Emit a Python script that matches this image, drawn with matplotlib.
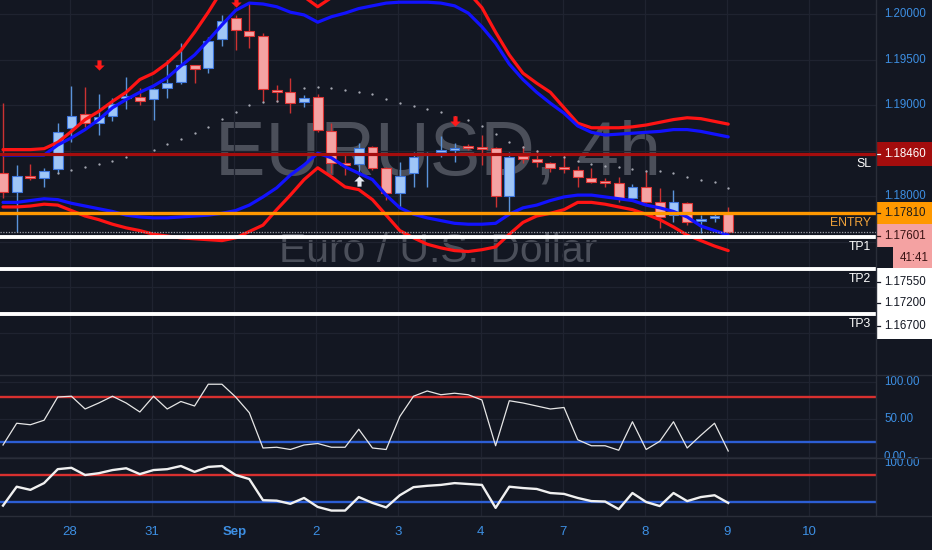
import numpy as np
import matplotlib
matplotlib.use("Agg")
import matplotlib.pyplot as plt
from matplotlib import font_manager
from matplotlib.patches import Rectangle
from matplotlib.lines import Line2D
from matplotlib.transforms import blended_transform_factory

# ---------------- EURUSD 4h candles ----------------
opens = [1.18253, 1.18044, 1.18220, 1.18198, 1.18297, 1.18747, 1.18901, 1.18802, 1.18879, 1.19077,
         1.19088, 1.19066, 1.19187, 1.19253, 1.19440, 1.19407, 1.19725, 1.19956, 1.19813, 1.19758,
         1.19165, 1.19143, 1.19033, 1.19088, 1.18714, 1.18352, 1.18352, 1.18539, 1.18308, 1.18033,
         1.18253, 1.18451, 1.18484, 1.18506, 1.18539, 1.18528, 1.18528, 1.18000, 1.18440, 1.18407,
         1.18363, 1.18308, 1.18286, 1.18198, 1.18154, 1.18143, 1.17978, 1.18099, 1.17934, 1.17791,
         1.17923, 1.17725, 1.17758, 1.17813]
highs = [1.19022, 1.18341, 1.18352, 1.18308, 1.18802, 1.19209, 1.19198, 1.19121, 1.19077, 1.19308,
         1.19187, 1.19187, 1.19495, 1.19681, 1.19445, 1.19747, 1.19989, 1.19989, 1.20121, 1.19791,
         1.19220, 1.19297, 1.19110, 1.19121, 1.18802, 1.18473, 1.18583, 1.18550, 1.18319, 1.18374,
         1.18484, 1.18484, 1.18660, 1.18583, 1.18572, 1.18670, 1.18535, 1.18484, 1.18550, 1.18506,
         1.18370, 1.18451, 1.18330, 1.18308, 1.18198, 1.18209, 1.18132, 1.18286, 1.18088, 1.18066,
         1.17930, 1.17791, 1.17824, 1.17879]
lows = [1.17978, 1.17605, 1.18176, 1.18099, 1.18253, 1.18594, 1.18758, 1.18670, 1.18824, 1.18956,
        1.19000, 1.18835, 1.19077, 1.19231, 1.19242, 1.19352, 1.19649, 1.19605, 1.19627, 1.19033,
        1.19033, 1.18912, 1.18978, 1.18703, 1.18253, 1.18231, 1.18231, 1.18286, 1.17956, 1.17879,
        1.18099, 1.18099, 1.18429, 1.18374, 1.18506, 1.18341, 1.17879, 1.17813, 1.18363, 1.18319,
        1.18264, 1.18253, 1.18099, 1.18143, 1.18099, 1.17934, 1.17967, 1.17923, 1.17649, 1.17714,
        1.17682, 1.17594, 1.17714, 1.17594]
closes = [1.18044, 1.18220, 1.18198, 1.18275, 1.18703, 1.18879, 1.18802, 1.18868, 1.19011, 1.19099,
          1.19044, 1.19176, 1.19242, 1.19440, 1.19396, 1.19703, 1.19923, 1.19824, 1.19758, 1.19176,
          1.19143, 1.19022, 1.19077, 1.18725, 1.18363, 1.18341, 1.18528, 1.18308, 1.18033, 1.18220,
          1.18429, 1.18473, 1.18495, 1.18528, 1.18528, 1.18517, 1.18000, 1.18429, 1.18407, 1.18374,
          1.18308, 1.18297, 1.18209, 1.18154, 1.18143, 1.17978, 1.18099, 1.17934, 1.17769, 1.17934,
          1.17714, 1.17747, 1.17769, 1.17601]

# ---------------- band indicators ----------------
upper_outer = [1.1851, 1.1851, 1.1851, 1.1852, 1.1859, 1.1871, 1.1884, 1.1893, 1.1904, 1.1914,
               1.1928, 1.1935, 1.1946, 1.1960, 1.1980, 1.2002, 1.2026, 1.2048, 1.2059, 1.2059,
               1.2054, 1.2037, 1.2019, 1.2008, 1.2018, 1.2037, 1.2054, 1.2059, 1.2059, 1.2059,
               1.2059, 1.2054, 1.2048, 1.2037, 1.2024, 1.2007, 1.1980, 1.1955, 1.1935, 1.1924,
               1.1914, 1.1897, 1.1880, 1.1875, 1.1875, 1.1875, 1.1876, 1.1878, 1.1881, 1.1884,
               1.1886, 1.1885, 1.1882, 1.1879]
upper_inner = [1.1845, 1.1845, 1.1845, 1.1845, 1.1856, 1.1864, 1.1873, 1.1884, 1.1897, 1.1906,
               1.1914, 1.1921, 1.1930, 1.1943, 1.1955, 1.1971, 1.1988, 1.2004, 1.2012, 1.2011,
               1.2008, 1.2002, 1.1999, 1.1991, 1.1997, 1.2001, 1.2006, 1.2009, 1.2012, 1.2013,
               1.2013, 1.2013, 1.2012, 1.2009, 1.2001, 1.1986, 1.1968, 1.1945, 1.1928, 1.1914,
               1.1902, 1.1891, 1.1877, 1.1870, 1.1867, 1.1868, 1.1869, 1.1870, 1.1871, 1.1873,
               1.1873, 1.1871, 1.1868, 1.1865]
lower_inner = [1.1793, 1.1793, 1.1795, 1.1797, 1.1796, 1.1792, 1.1789, 1.1786, 1.1783, 1.1779,
               1.1777, 1.1776, 1.1776, 1.1777, 1.1778, 1.1779, 1.1781, 1.1784, 1.1790, 1.1799,
               1.1809, 1.1823, 1.1834, 1.1847, 1.1842, 1.1832, 1.1825, 1.1818, 1.1801, 1.1787,
               1.1780, 1.1776, 1.1773, 1.1770, 1.1769, 1.1769, 1.1770, 1.1780, 1.1787, 1.1790,
               1.1795, 1.1799, 1.1801, 1.1801, 1.1799, 1.1797, 1.1795, 1.1790, 1.1787, 1.1783,
               1.1777, 1.1767, 1.1762, 1.1757]
lower_outer = [1.1788, 1.1788, 1.1789, 1.1791, 1.1790, 1.1784, 1.1778, 1.1774, 1.1769, 1.1765,
               1.1762, 1.1758, 1.1756, 1.1754, 1.1753, 1.1752, 1.1751, 1.1754, 1.1761, 1.1768,
               1.1785, 1.1801, 1.1818, 1.1831, 1.1821, 1.1810, 1.1807, 1.1796, 1.1779, 1.1762,
               1.1754, 1.1747, 1.1743, 1.1740, 1.1739, 1.1741, 1.1744, 1.1758, 1.1771, 1.1778,
               1.1781, 1.1785, 1.1793, 1.1793, 1.1791, 1.1788, 1.1785, 1.1780, 1.1774, 1.1766,
               1.1757, 1.1751, 1.1745, 1.1740]

# parabolic SAR (nan where no dot is shown)
nan = np.nan
sar = [nan, nan, nan, nan, 1.1825, 1.1829, 1.1832, 1.1835, 1.1838, 1.1843,
       1.1846, 1.1851, 1.1857, 1.1863, 1.1869, 1.1876, 1.1885, 1.1892, 1.1900, 1.1903,
       1.1904, nan, 1.1919, 1.1920, 1.1919, 1.1917, 1.1914, 1.1912, 1.1907, 1.1902,
       1.1899, 1.1896, 1.1892, 1.1887, 1.1884, 1.1877, 1.1868, 1.1859, 1.1854, 1.1850,
       1.1845, 1.1843, 1.1838, 1.1835, 1.1833, 1.1832, 1.1830, 1.1828, 1.1827, 1.1825,
       1.1821, 1.1818, 1.1815, 1.1809]

sell_bars = [7, 17, 33]
sell_prices = [1.1944, 1.2013, 1.1882]
buy_bars = [26]
buy_prices = [1.1817]

# ---------------- oscillators ----------------
osc_fast = [16, 45, 43, 49, 80, 81, 64, 72, 81, 72,
            60, 81, 64, 74, 68, 97, 97, 80, 59, 12,
            13, 10, 16, 18, 13, 13, 37, 12, 10, 54,
            81, 88, 83, 85, 83, 76, 15, 75, 72, 68,
            64, 66, 23, 15, 15, 9, 47, 10, 21, 47,
            12, 29, 45, 8]
osc_slow = [12, 54, 47, 62, 93, 96, 80, 84, 91, 95,
            82, 91, 93, 100, 87, 98, 100, 80, 71, 24,
            23, 16, 29, 9, 1, 1, 31, 18, 8, 35,
            53, 56, 58, 62, 60, 58, 7, 54, 51, 49,
            40, 38, 29, 22, 21, 4, 40, 20, 11, 40,
            22, 31, 35, 18]
osc_upper, osc_lower = 80, 20

# ---------------- trade levels ----------------
stop_loss = 1.18460
entry = 1.17810
targets = [1.17550, 1.17200, 1.16700]
target_names = ["TP1", "TP2", "TP3"]
countdown = "41:41"

day_start_bars = [5, 11, 17, 23, 29, 35, 41, 47, 53, 59]
day_labels = ["28", "31", "Sep", "2", "3", "4", "7", "8", "9", "10"]
price_ticks = [1.165, 1.170, 1.175, 1.180, 1.185, 1.190, 1.195, 1.200]

# ---------------- style ----------------
W, H = 932, 550
BG = "#131722"
GRID = "#1f2330"
SEP = "#2a2e39"
AXIS_BLUE = "#3d8fe3"
WM = "#4b4f5a"
LABEL_FS = 8.3

names = {f.name for f in font_manager.fontManager.ttflist}
NARROW = "Liberation Sans Narrow" if "Liberation Sans Narrow" in names else "Liberation Sans"
plt.rcParams["font.family"] = [NARROW, "DejaVu Sans"]

fig = plt.figure(figsize=(W / 100, H / 100), dpi=100, facecolor=BG)


def px_rect(x0, y0, x1, y1):
    return [x0 / W, 1 - y1 / H, (x1 - x0) / W, (y1 - y0) / H]


PLOT_R = 876
ax = fig.add_axes(px_rect(0, 0, PLOT_R, 375))
scale = fig.add_axes(px_rect(PLOT_R, 0, W, 375), sharey=ax)
ax1 = fig.add_axes(px_rect(0, 375, PLOT_R, 458), sharex=ax)
ax2 = fig.add_axes(px_rect(0, 458, PLOT_R, 516), sharex=ax)

for a in (ax, scale, ax1, ax2):
    a.set_facecolor(BG)
    for s in a.spines.values():
        s.set_visible(False)
    a.tick_params(left=False, bottom=False, labelleft=False, labelbottom=False,
                  length=0)
    a.set_axisbelow(True)

Y_TOP, Y_BOT = 1.20154, 1.16033
ax.set_xlim(-0.22, 63.8)
ax.set_ylim(Y_BOT, Y_TOP)
ax1.set_ylim(-1.33, 109.3)
ax2.set_ylim(-11.1, 117.8)
scale.set_xlim(0, W - PLOT_R)
PX = (Y_TOP - Y_BOT) / 375.0  # price per pixel in the main pane

tick_x = [b - 0.1 for b in day_start_bars]
ax.set_xticks(tick_x)
ax.set_yticks(price_ticks)
ax.grid(True, color=GRID, lw=0.9)
ax1.set_yticks([0, 50, 100])
ax1.grid(True, color=GRID, lw=0.9)
ax2.set_yticks([])
ax2.grid(True, axis="x", color=GRID, lw=0.9)
scale.set_xticks([])
scale.grid(False)

# watermark
wm1 = ax.text(0.5, 1 - 175 / 375, "EURUSD, 4h", transform=ax.transAxes, ha="center",
              va="baseline", fontsize=64, color=WM, zorder=0.5)
wm2 = ax.text(0.5, 1 - 262 / 375, "Euro / U.S. Dollar", transform=ax.transAxes,
              ha="center", va="baseline", fontsize=34, color=WM, zorder=0.5)
renderer = fig.canvas.get_renderer()
for t, target in ((wm1, 445), (wm2, 318)):
    w = t.get_window_extent(renderer).width
    t.set_fontsize(t.get_fontsize() * target / w)

# candles
x = np.arange(len(opens))
o, hi, lo, c = (np.array(v) for v in (opens, highs, lows, closes))
up = c >= o
UP_FILL, UP_EDGE, UP_WICK = "#9fc6f7", "#3e76dc", "#5a93da"
DN_FILL, DN_EDGE, DN_WICK = "#f5a3a3", "#de3434", "#cc3232"
ax.vlines(x[up], lo[up], hi[up], color=UP_WICK, lw=1.0, zorder=3)
ax.vlines(x[~up], lo[~up], hi[~up], color=DN_WICK, lw=1.0, zorder=3)
body_lo = np.minimum(o, c)
body_h = np.maximum(np.abs(c - o), 2 * PX)
ax.bar(x[up], body_h[up], bottom=body_lo[up], width=0.72, color=UP_FILL,
       edgecolor=UP_EDGE, lw=0.8, zorder=4)
ax.bar(x[~up], body_h[~up], bottom=body_lo[~up], width=0.72, color=DN_FILL,
       edgecolor=DN_EDGE, lw=0.8, zorder=4)

# bands
for series, col in ((upper_outer, "#ff1414"), (lower_outer, "#ff1414"),
                    (upper_inner, "#1212ff"), (lower_inner, "#1212ff")):
    ax.plot(x, series, color=col, lw=2.3, zorder=5, solid_capstyle="round")

# SAR dots
ax.scatter(x, sar, s=2.8, color="#a3a6b0", zorder=6, linewidths=0)

# signal arrows
down_arrow = [(-0.2, 0.5), (0.2, 0.5), (0.2, 0.0), (0.5, 0.0), (0.0, -0.5),
              (-0.5, 0.0), (-0.2, 0.0), (-0.2, 0.5)]
up_arrow = [(px_, -py_) for px_, py_ in down_arrow]
ax.scatter(sell_bars, sell_prices, marker=down_arrow, s=55, color="#ff1a1a",
           zorder=8, linewidths=0)
ax.scatter(buy_bars, buy_prices, marker=up_arrow, s=55, color="#e8ecf5",
           zorder=8, linewidths=0)

# trade levels
ax.axhline(stop_loss, color="#a50d0d", lw=2.3, zorder=7)
ax.axhline(entry, color="#ff9800", lw=2.4, zorder=7)
ax.axhline(closes[-1], color="#9a9da6", lw=0.9, ls=(0, (1, 1.2)), zorder=7)
for t in targets:
    ax.axhline(t, color="white", lw=2.8, zorder=7)

edge = blended_transform_factory(ax.transAxes, ax.transData)
level_text = [("SL", stop_loss, "white"), ("ENTRY", entry, "#f0a23a")]
level_text += [(n, t, "white") for n, t in zip(target_names, targets)]
for name, val, col in level_text:
    ax.annotate(name, xy=(1.0, val), xycoords=edge, xytext=(-5, -10),
                textcoords="offset pixels", ha="right", va="center",
                fontsize=8.8, color=col, zorder=9, annotation_clip=False)

# price scale tags
covered = []


def tag(center, text, fc, tc, h_px=23, x0=1):
    lo_, hi_ = center - h_px / 2 * PX, center + h_px / 2 * PX
    covered.append((lo_, hi_))
    scale.add_patch(Rectangle((x0, lo_), W - PLOT_R - x0, h_px * PX, fc=fc,
                              ec="none", zorder=3))
    scale.text(x0 + 7 if x0 > 1 else 8, center, text, color=tc, fontsize=LABEL_FS,
               va="center", ha="left", zorder=4)
    if x0 == 1:
        scale.plot([0.5, 4], [center, center], color=tc, lw=0.9, zorder=4)


tag(stop_loss, f"{stop_loss:.5f}", "#a30d0d", "white", h_px=24)
tag(entry, f"{entry:.5f}", "#ff9800", "#1b1b1b")
last_center = closes[-1] - 3.5 * PX
tag(last_center, f"{closes[-1]:.5f}", "#f4a2a2", "#3a1414")
tag(last_center - 22.5 * PX, countdown, "#f4a2a2", "#3a1414", h_px=22, x0=17)

# stacked target labels in one white block
box_top = targets[1] + 0.5 * PX
box_h = 71 * PX
covered.append((box_top - box_h, box_top))
scale.add_patch(Rectangle((1, box_top - box_h), W - PLOT_R - 1, box_h, fc="white",
                          ec="none", zorder=3))
for k, t in enumerate(targets):
    yy = box_top - [14, 35, 58][k] * PX
    scale.text(8, yy, f"{t:.5f}", color="#131722", fontsize=LABEL_FS, va="center",
               ha="left", zorder=4)
    scale.plot([0.5, 4], [yy, yy], color="#131722", lw=0.9, zorder=4)

# regular price ticks, only where no tag sits on top of them
for p in price_ticks:
    if any(a_ <= p <= b_ for a_, b_ in covered):
        continue
    scale.text(8, p, f"{p:.5f}", color=AXIS_BLUE, fontsize=LABEL_FS, va="center",
               ha="left", zorder=1, clip_on=True)

# oscillators
ax1.plot(x, osc_fast, color="#e6e6e6", lw=0.9, zorder=4)
ax2.plot(x, osc_slow, color="#f0f0f0", lw=1.7, zorder=4)
for a in (ax1, ax2):
    a.axhline(osc_upper, color="#d8302f", lw=1.7, zorder=3)
    a.axhline(osc_lower, color="#2c5ed4", lw=1.7, zorder=3)

e1 = blended_transform_factory(ax1.transAxes, ax1.transData)
for v in (100, 50, 0):
    ax1.annotate(f"{v:.2f}", xy=(1.0, v), xycoords=e1, xytext=(8, 0),
                 textcoords="offset pixels", ha="left", va="center",
                 fontsize=LABEL_FS, color=AXIS_BLUE, annotation_clip=False)
e2 = blended_transform_factory(ax2.transAxes, ax2.transData)
ax2.annotate("100.00", xy=(1.0, 100), xycoords=e2, xytext=(8, 3),
             textcoords="offset pixels", ha="left", va="center", fontsize=LABEL_FS,
             color=AXIS_BLUE, annotation_clip=False)

# time axis
ax2.set_xticks(tick_x)
ax2.set_xticklabels(day_labels)
ax2.tick_params(labelbottom=True, labelcolor=AXIS_BLUE, labelsize=9.5, pad=7)
for lab in ax2.get_xticklabels():
    if lab.get_text() == "Sep":
        lab.set_fontweight("bold")

# pane separators
for yy in (375, 458, 516):
    fig.add_artist(Line2D([0, 1], [1 - yy / H] * 2, transform=fig.transFigure,
                          color=SEP, lw=1))
fig.add_artist(Line2D([PLOT_R / W] * 2, [1 - 516 / H, 1], transform=fig.transFigure,
                      color=SEP, lw=1))

fig.savefig("out.png", dpi=100, facecolor=BG)
